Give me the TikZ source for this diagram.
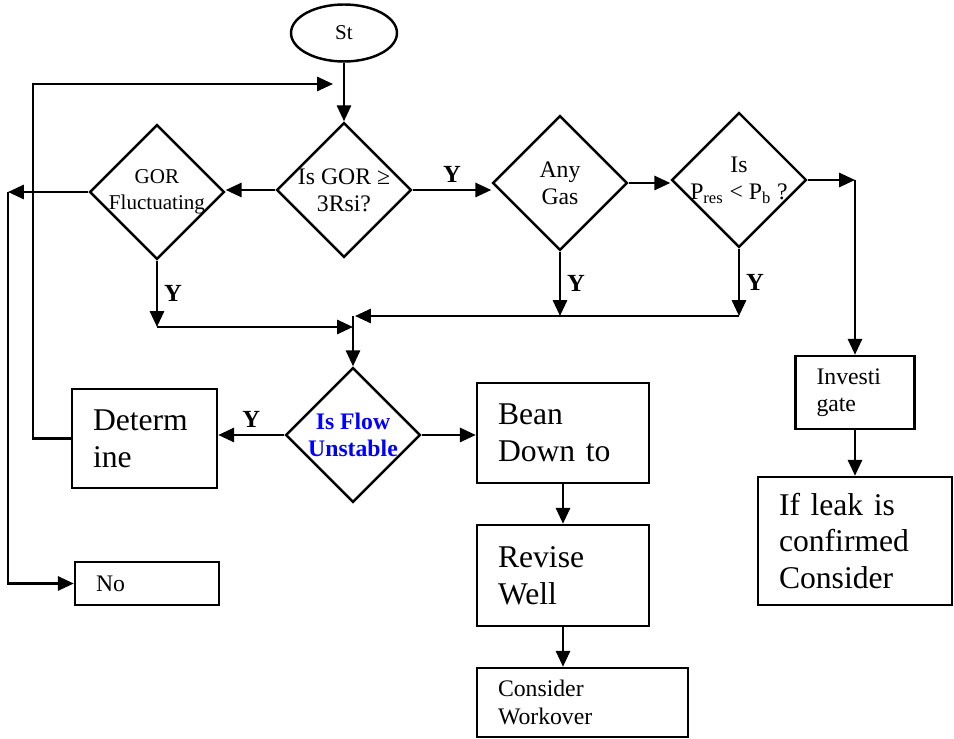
\documentclass[tikz,border=0pt]{standalone}
\usepackage{fontspec}
\setmainfont{Liberation Serif}
\usepackage{tikz}
\usetikzlibrary{shapes,arrows.meta,positioning}

\newcommand{\smalltxt}{\fontsize{13.5}{15.5}\selectfont}
\newcommand{\bigtxt}{\fontsize{18}{21}\selectfont}

\begin{document}
\begin{tikzpicture}[
    x=0.02cm, y=-0.02cm,
    line width=1.4pt,
    decision/.style={diamond, draw, inner sep=-6pt, minimum width=2.7cm, minimum height=2.7cm, align=center, font=\smalltxt},
    process/.style={rectangle, draw, inner xsep=0.42cm, inner ysep=0pt, align=left},
    arrow/.style={-{Triangle[length=9pt,width=8pt]}},
    ylabel/.style={font=\fontsize{14}{15}\selectfont\bfseries}
]
\useasboundingbox (0,0) rectangle (954,739);

% Start and first checks
\node[ellipse, draw, inner sep=0pt, minimum width=2.12cm, minimum height=1.14cm, font=\fontsize{12}{14}\selectfont] (start) at (344,33) {St};
\node[decision] (isgor) at (344,190) {Is GOR ≥\\3Rsi?};
\node[decision] (anygas) at (560,183) {Any\\Gas};
\node[decision] (pres) at (739,180) {Is\\P\textsubscript{res} < P\textsubscript{b} ?};
\node[decision, font=\fontsize{12}{14.5}\selectfont] (gorf) at (157,192) {GOR\\Fluctuating};

% Flow check
\node[decision, font=\smalltxt\bfseries, text=blue] (isflow) at (353,435) {Is Flow\\Unstable};

% Boxes
\node[process, text width=2.06cm, minimum height=1.98cm, font=\bigtxt] (determ) at (144.5,438.5) {Determ\\ine};
\node[process, text width=2.04cm, minimum height=0.86cm, font=\smalltxt] (no) at (147,583.5) {No};
\node[process, text width=2.6cm, minimum height=2.0cm, font=\bigtxt] (bean) at (563,433) {Bean\\Down to};
\node[process, text width=2.6cm, minimum height=2.02cm, font=\bigtxt] (revise) at (563,575.5) {Revise\\Well};
\node[process, text width=3.38cm, minimum height=1.38cm, font=\smalltxt] (workover) at (582.5,702.5) {Consider\\Workover};
\node[process, text width=1.54cm, minimum height=1.46cm, font=\smalltxt] (invest) at (855,392.5) {Investi\\gate};
\node[process, text width=3.04cm, minimum height=2.56cm, font=\bigtxt] (leak) at (855,541) {If leak is\\confirmed\\Consider};

% Junction points
\coordinate (fbk) at (333,84);
\coordinate (fbkcorner) at (33,84);
\coordinate (lbus) at (8,192);
\coordinate (jleft) at (157,327);
\coordinate (jmid) at (353,327);
\coordinate (jright) at (739,316);
\coordinate (jtop) at (355,316);
\coordinate (pcorner) at (invest.north |- pres.east);

% Connectors
\draw[arrow] (start) -- (isgor);
\draw[arrow] (isgor.east) -- (isgor.east -| anygas.west) node[midway, above, ylabel] {Y};
\draw[arrow] (anygas.east) -- (anygas.east -| pres.west);
\draw[arrow] (pres.east) -- (pcorner);
\draw[arrow] (pcorner) -- (invest.north);
\draw[arrow] (isgor.west) -- (isgor.west -| gorf.east);
\draw[arrow] (gorf.west) -- (lbus);
\draw[arrow] (lbus) |- (no.west);
\draw[arrow] (gorf.south) -- (jleft) node[midway, right, ylabel] {Y};
\draw[arrow] (jleft) -- (jmid);
\draw[arrow] (anygas.south) -- (anygas.south |- jright) node[midway, right, ylabel] {Y};
\draw[arrow] (pres.south) -- (jright) node[midway, right, ylabel] {Y};
\draw[arrow] (jright) -- (jtop);
\draw[arrow] (jmid |- jtop) -- (isflow.north);
\draw[arrow] (isflow.west) -- (isflow.west -| determ.east) node[midway, above, ylabel] {Y};
\draw[arrow] (isflow.east) -- (isflow.east -| bean.west);
\draw[arrow] (determ.west) -| (fbkcorner) -- (fbk);
\draw[arrow] (bean.south) -- (revise.north);
\draw[arrow] (revise.south) -- (revise.south |- workover.north);
\draw[arrow] (invest.south) -- (leak.north);

\end{tikzpicture}
\end{document}
